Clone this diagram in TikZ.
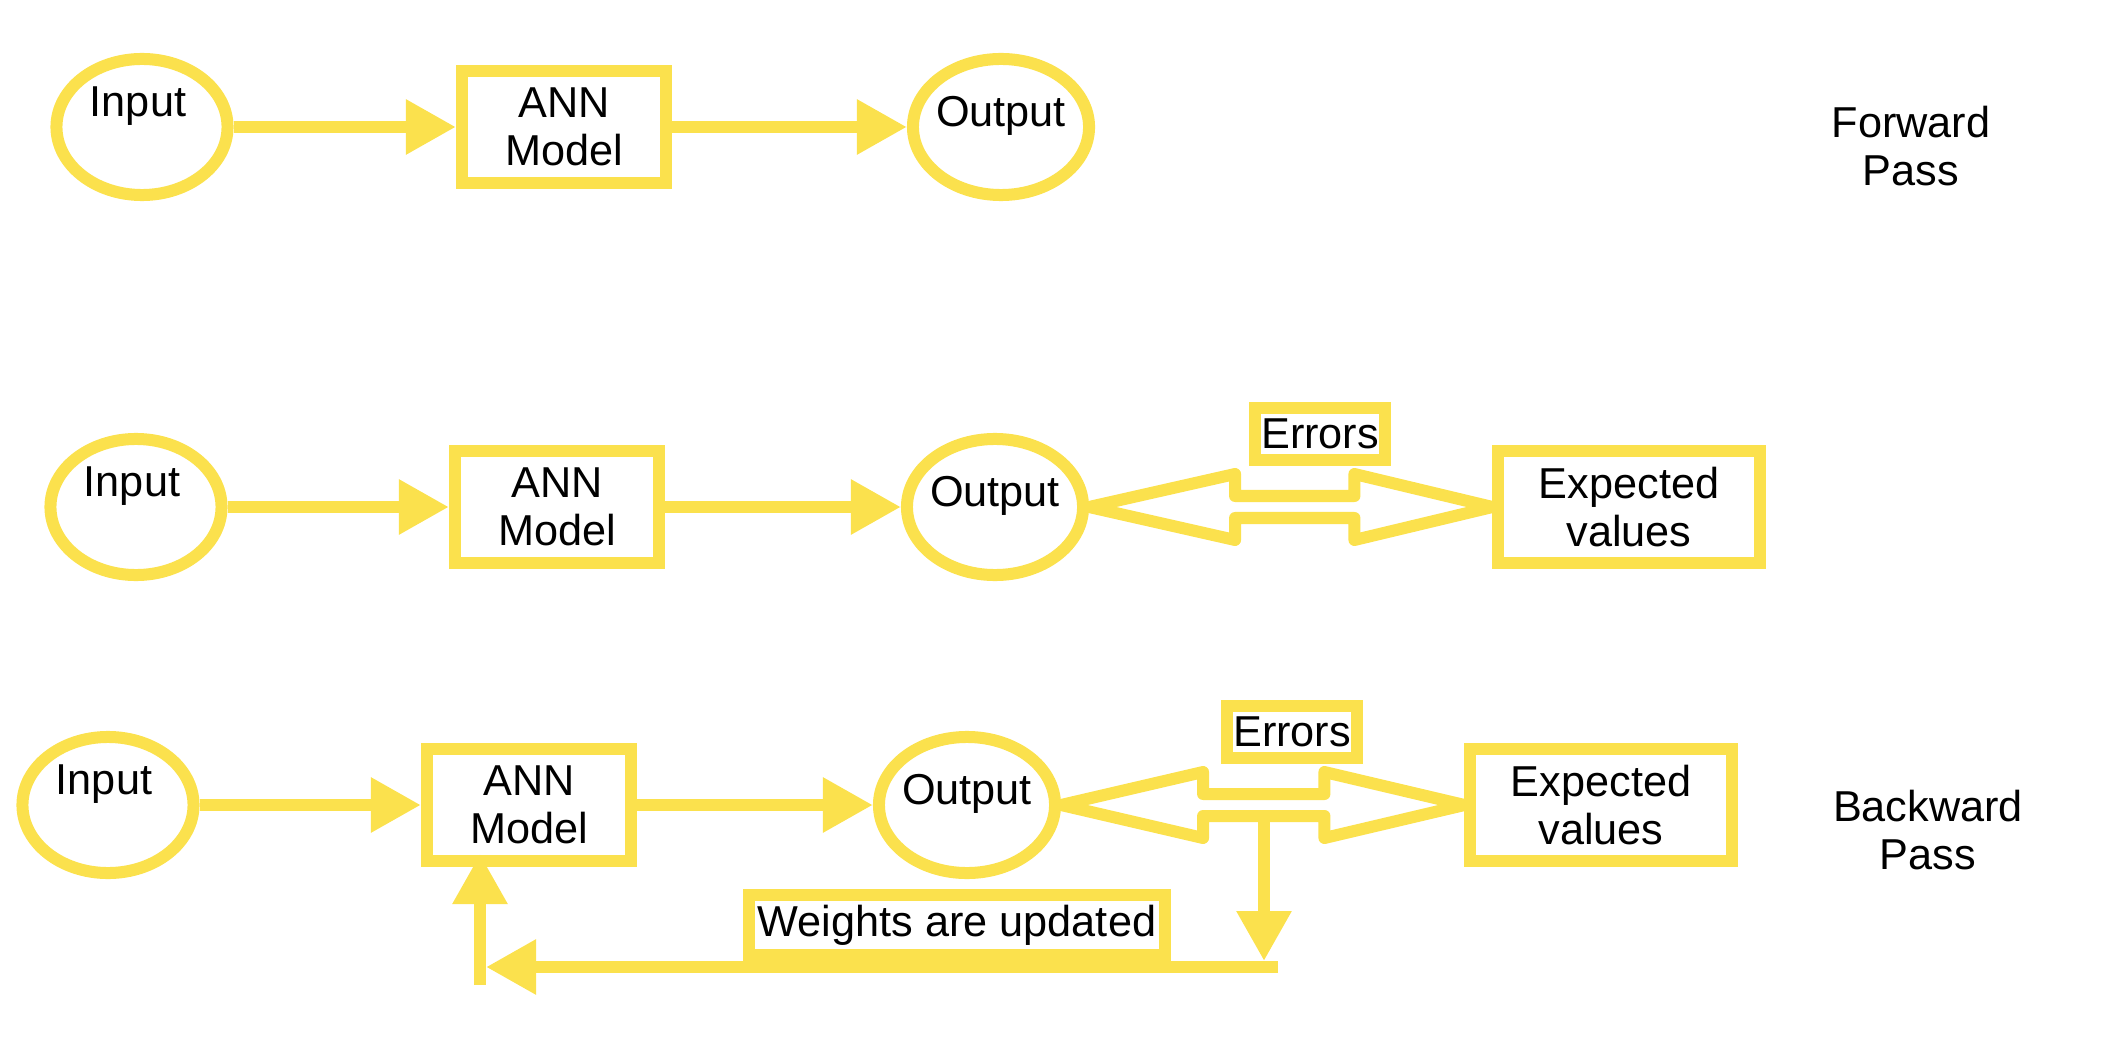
\documentclass[tikz,border=0pt]{standalone}
\usepackage{fontspec}
\setmainfont{Liberation Sans}
\usepackage{tikz}
\usetikzlibrary{arrows.meta,calc,shapes.geometric}
\definecolor{annyellow}{HTML}{FBE14D}

\begin{document}
\begin{tikzpicture}[x=0.01cm,y=-0.01cm,
  every node/.style={font=\fontsize{12.3}{13.8}\selectfont},
  ioell/.style={ellipse,draw=annyellow,line width=0.12cm,fill=white,inner sep=0pt,minimum height=1.36cm},
  inlab/.style={xshift=-0.04cm,yshift=0.21cm},
  outlab/.style={yshift=0.11cm},
  ybox/.style={rectangle,draw=annyellow,line width=0.12cm,fill=white,inner sep=0pt,align=center},
  flow/.style={draw=annyellow,line width=0.12cm,-{Triangle[length=0.5cm,width=0.52cm]}},
  dblarr/.style={draw=annyellow,line width=0.12cm,fill=white,line join=round}]
\useasboundingbox (0,0) rectangle (2122,1058);

% Forward pass row.
\node[ioell,minimum width=1.71cm,label={[inlab]center:Input}] (in1) at (142,127) {};
\node[ybox,minimum width=2.04cm,minimum height=1.12cm] (ann1) at (564,127) {ANN\\Model};
\node[ioell,minimum width=1.76cm,label={[outlab]center:Output}] (out1) at (1001,127) {};
\node[align=center] (fwd) at (1911,146) {Forward\\Pass};

\draw[flow] (in1) -- (ann1);
\draw[flow] (ann1) -- (out1);

% Comparison with the expected values.
\node[ioell,minimum width=1.71cm,label={[inlab]center:Input}] (in2) at (136,507) {};
\node[ybox,minimum width=2.04cm,minimum height=1.12cm] (ann2) at (557,507) {ANN\\Model};
\node[ioell,minimum width=1.76cm,label={[outlab]center:Output}] (out2) at (995,507) {};
\node[ybox,minimum width=2.61cm,minimum height=1.12cm] (exp2) at (1629,507) {Expected\\values};
\node[ybox,minimum width=1.30cm,minimum height=0.51cm] (err2) at (1320,434) {Errors};

\draw[flow] (in2) -- (ann2);
\draw[flow] (ann2) -- (out2);
\draw[dblarr] (out2.east) -- ($(out2.east)+(146,-33)$) -- ($(out2.east)+(146,-11)$)
              -- ($(exp2.west)+(-138,-11)$) -- ($(exp2.west)+(-138,-33)$) -- (exp2.west)
              -- ($(exp2.west)+(-138,33)$) -- ($(exp2.west)+(-138,11)$)
              -- ($(out2.east)+(146,11)$) -- ($(out2.east)+(146,33)$) -- cycle;

% Backward pass row, errors fed back to the model.
\node[ioell,minimum width=1.71cm,label={[inlab]center:Input}] (in3) at (108,805) {};
\node[ybox,minimum width=2.04cm,minimum height=1.12cm] (ann3) at (529,805) {ANN\\Model};
\node[ioell,minimum width=1.76cm,label={[outlab]center:Output}] (out3) at (967,805) {};
\node[ybox,minimum width=2.61cm,minimum height=1.12cm] (exp3) at (1601,805) {Expected\\values};
\node[ybox,minimum width=1.30cm,minimum height=0.51cm] (err3) at (1292,732) {Errors};
\node[ybox,minimum width=4.16cm,minimum height=0.60cm] (wts) at (957,925) {Weights are updated};
\node[align=center] (bwd) at (1928,830) {Backward\\Pass};

\draw[flow] (in3) -- (ann3);
\draw[flow] (ann3) -- (out3);
\draw[dblarr] (out3.east) -- ($(out3.east)+(142,-33)$) -- ($(out3.east)+(142,-11)$)
              -- ($(exp3.west)+(-140,-11)$) -- ($(exp3.west)+(-140,-33)$) -- (exp3.west)
              -- ($(exp3.west)+(-140,33)$) -- ($(exp3.west)+(-140,11)$)
              -- ($(out3.east)+(142,11)$) -- ($(out3.east)+(142,33)$) -- cycle;

\coordinate (drop) at (1264,817);
\coordinate (back) at (1278,967);
\coordinate (rise) at (480,985);
\draw[flow] (drop) -- (drop |- wts.south);
\draw[flow] (back) -- ([xshift=0.06cm]rise |- back);
\draw[flow] (rise) -- ([yshift=0.13cm]rise |- ann3.south);
\end{tikzpicture}
\end{document}
